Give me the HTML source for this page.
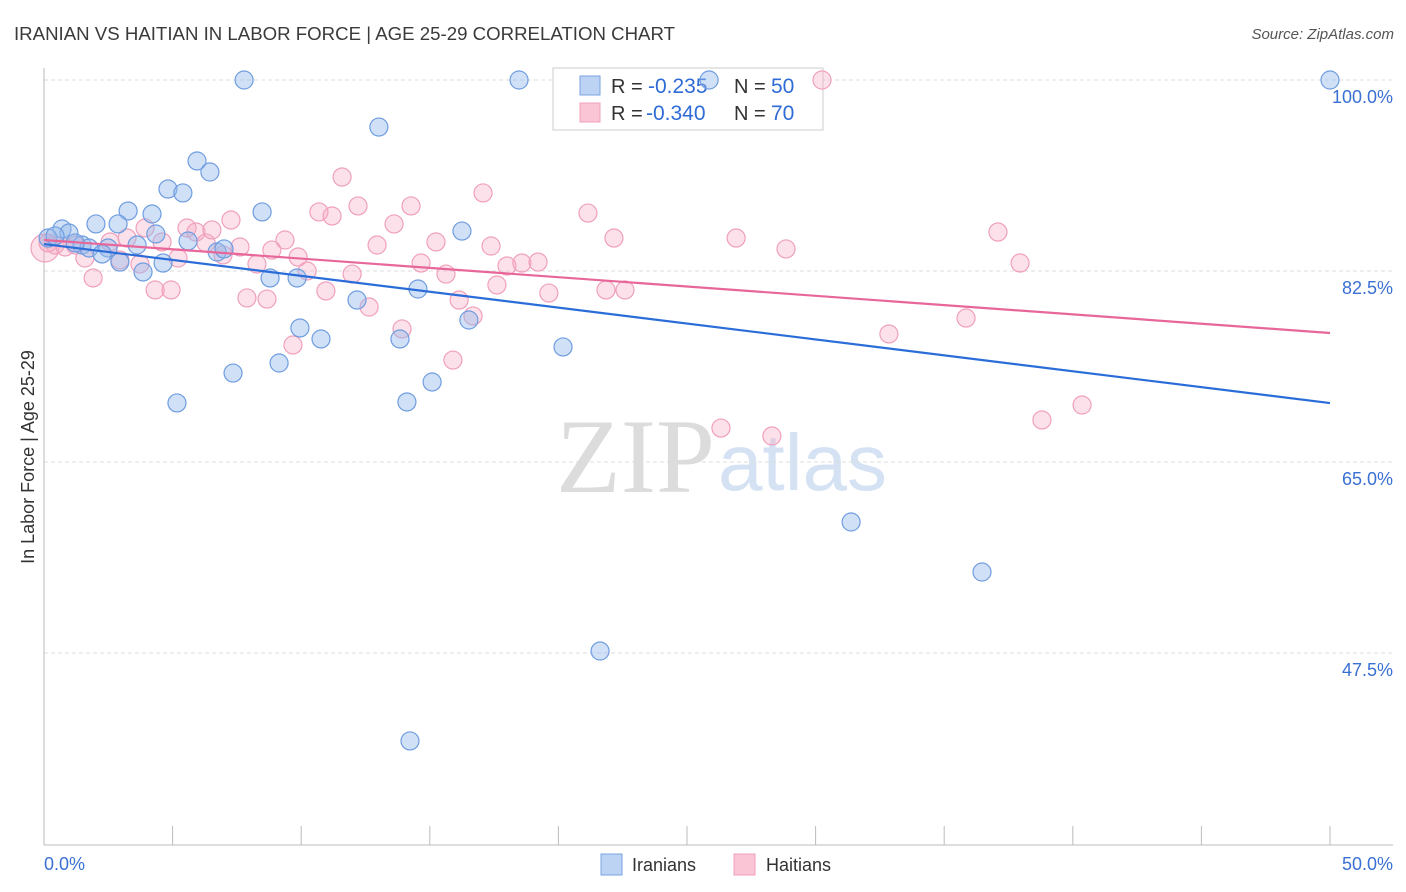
<!DOCTYPE html>
<html><head><meta charset="utf-8"><style>
body{margin:0;background:#fff;font-family:"Liberation Sans",sans-serif;}
#c{position:relative;width:1406px;height:892px;overflow:hidden}
</style></head><body>
<div id="c">
<svg id="s" width="1406" height="892" xmlns="http://www.w3.org/2000/svg">
<text x="14" y="40" font-size="18" fill="#3a3a3a" textLength="661" lengthAdjust="spacingAndGlyphs">IRANIAN VS HAITIAN IN LABOR FORCE | AGE 25-29 CORRELATION CHART</text>
<text x="1394" y="39" font-size="15" fill="#555" font-style="italic" text-anchor="end">Source: ZipAtlas.com</text>
<text x="715" y="492" font-size="106" fill="#dcdcdc" text-anchor="end" font-family="Liberation Serif">ZIP</text>
<text x="718" y="490" font-size="80" fill="#d4e2f4">atlas</text>
<text transform="translate(34,457) rotate(-90)" font-size="18" fill="#333" text-anchor="middle">In Labor Force | Age 25-29</text>
<g id="grid"></g><g id="axes"></g>
<g>
<rect x="553" y="68" width="270" height="62" fill="#fff" stroke="#ccc"/>
<rect x="580" y="76" width="20" height="19" fill="#bcd3f3" stroke="#7aa3e0"/>
<rect x="580" y="103" width="20" height="19" fill="#fac6d6" stroke="#f0a0bb"/>
<text x="611" y="93" font-size="20" fill="#333">R =</text>
<text x="648" y="93" font-size="21" fill="#2f6bd6">-0.235</text>
<text x="734" y="93" font-size="20" fill="#333">N =</text>
<text x="771" y="93" font-size="21" fill="#2f6bd6">50</text>
<text x="611" y="120" font-size="20" fill="#333">R =</text>
<text x="646" y="120" font-size="21" fill="#2f6bd6">-0.340</text>
<text x="734" y="120" font-size="20" fill="#333">N =</text>
<text x="771" y="120" font-size="21" fill="#2f6bd6">70</text>
</g>
<g id="pts"></g><g id="lines"></g>
<g>
<rect x="601" y="854" width="21" height="21" fill="#bcd3f3" stroke="#7aa3e0"/>
<text x="632" y="871" font-size="18" fill="#333">Iranians</text>
<rect x="734" y="854" width="21" height="21" fill="#fac6d6" stroke="#f0a0bb"/>
<text x="766" y="871" font-size="18" fill="#333">Haitians</text>
</g>
</svg>
</div>
<script>
const yTicks=[100,82.5,65,47.5];
const yTickLabels=["100.0%","82.5%","65.0%","47.5%"];
const xTicks=[0,5,10,15,20,25,30,35,40,45,50];
const xEndLabels=["0.0%","50.0%"];
const blueX=[7.78,18.47,25.86,50,13.02,5.95,6.45,4.82,5.40,3.27,4.20,8.48,2.02,0.70,0.97,2.88,4.35,5.60,3.62,2.49,1.48,1.75,1.21,0.16,0.43,2.26,2.95,4.63,3.85,6.73,7.0,8.79,9.84,16.25,14.54,12.17,9.95,10.77,16.52,13.84,20.18,7.35,9.14,15.09,5.17,14.11,31.38,36.47,21.62,14.23];
const blueY=[100,100,100,100,95.69,92.58,91.57,90.01,89.65,88.0,87.72,87.91,86.81,86.35,85.98,86.81,85.89,85.25,84.88,84.61,84.88,84.61,85.07,85.52,85.71,84.06,83.32,83.23,82.41,84.24,84.52,81.86,81.86,86.16,80.85,79.84,77.28,76.27,78.01,76.27,75.54,73.15,74.07,72.33,70.41,70.50,59.50,54.92,47.68,39.44];
const pinkX=[0.04,0.16,0.43,0.82,1.21,1.59,1.91,2.57,2.95,3.23,3.73,3.93,4.32,4.59,4.94,5.21,5.56,5.91,6.30,6.53,6.96,7.27,7.62,7.89,8.28,8.67,8.86,9.37,9.68,9.88,10.23,10.69,10.96,11.20,11.59,11.98,12.21,12.64,12.95,13.61,13.92,14.27,14.66,15.24,15.63,15.90,16.14,16.68,17.07,17.38,17.61,18.0,18.58,19.21,19.63,21.15,21.85,22.16,22.59,26.32,26.91,28.30,28.85,30.25,32.85,35.85,37.09,37.95,38.80,40.36];
const pinkY=[84.61,85.07,84.88,84.70,84.88,83.69,81.86,85.16,83.51,85.52,83.14,86.44,80.76,85.16,80.76,83.69,86.44,86.07,85.07,86.26,83.97,87.17,84.70,80.03,83.14,79.93,84.42,85.34,75.72,83.78,82.50,87.91,80.67,87.54,91.11,82.22,88.46,79.20,84.88,86.81,77.19,88.46,83.23,85.16,82.22,74.34,79.84,78.38,89.65,84.79,81.22,82.96,83.23,83.32,80.48,87.81,80.76,85.52,80.76,68.11,85.52,67.38,84.52,100,76.73,78.19,86.07,83.23,68.85,70.22];
const blueTrend=[84.97,70.4];
const pinkTrend=[85.34,76.82];
const NS="http://www.w3.org/2000/svg";
const X=v=>44+v*25.72, Y=v=>80+(100-v)*10.914;
function mk(t,a,p){const e=document.createElementNS(NS,t);for(const k in a)e.setAttribute(k,a[k]);p.appendChild(e);return e;}
const grid=document.getElementById('grid'),axes=document.getElementById('axes'),pts=document.getElementById('pts'),lines=document.getElementById('lines');
yTicks.forEach((t,i)=>{
 const l=mk('line',{x1:44,x2:1393,y1:Y(t),y2:Y(t),stroke:'#ddd','stroke-dasharray':'4,3'},grid);
 
 
 const tx=mk('text',{x:1393,y:Y(t)+23,'font-size':18,fill:'#3a70d4','text-anchor':'end'},grid);
 tx.textContent=yTickLabels[i];
 
 
});
const ax=mk('line',{x1:44,x2:1393,y1:845,y2:845,stroke:'#bbb'},axes);


const ay=mk('line',{x1:44,x2:44,y1:68,y2:845,stroke:'#bbb'},axes);


xTicks.forEach(t=>{
 const l=mk('line',{x1:X(t),x2:X(t),y1:826,y2:845,stroke:'#bbb'},axes);
 
 
});
const xl0=mk('text',{x:44,y:870,'font-size':18,fill:'#3a70d4'},axes);xl0.textContent=xEndLabels[0];


const xl1=mk('text',{x:1393,y:870,'font-size':18,fill:'#3a70d4','text-anchor':'end'},axes);xl1.textContent=xEndLabels[1];


pinkX.forEach((v,i)=>{
 const c=mk('circle',{cx:X(v),cy:Y(pinkY[i]),r:i===0?14:9,fill:'rgba(246,168,196,0.35)',stroke:'#f0a0bb','stroke-width':1.2},pts);
 
 
});
blueX.forEach((v,i)=>{
 const c=mk('circle',{cx:X(v),cy:Y(blueY[i]),r:9,fill:'rgba(150,186,236,0.45)',stroke:'#6f9de0','stroke-width':1.2},pts);
 
 
});
const bl=mk('line',{x1:X(0),y1:Y(blueTrend[0]),x2:X(50),y2:Y(blueTrend[1]),stroke:'#2a6dd9','stroke-width':2.2},lines);


const pl=mk('line',{x1:X(0),y1:Y(pinkTrend[0]),x2:X(50),y2:Y(pinkTrend[1]),stroke:'#e8679a','stroke-width':2.2},lines);


</script>
</body></html>
